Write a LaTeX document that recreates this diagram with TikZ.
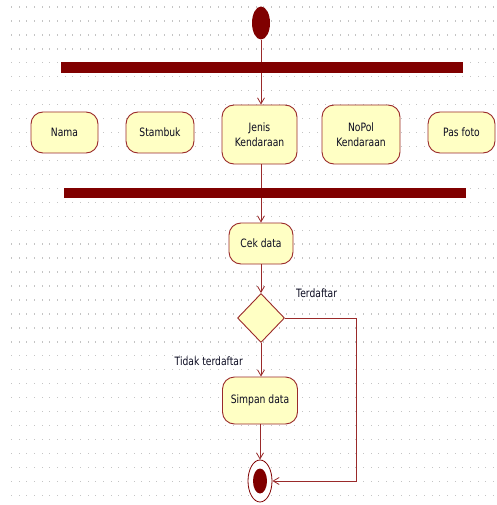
\documentclass[tikz,border=0pt]{standalone}
\usepackage{fontspec}
\usetikzlibrary{shapes.geometric,arrows.meta}
\newfontfamily\uifont{DejaVu Sans}[FakeStretch=0.8]
\definecolor{maroon}{HTML}{800000}
\definecolor{edgered}{HTML}{9A2A2A}
\definecolor{actfill}{HTML}{FFFFC4}
\definecolor{gridgray}{HTML}{C4C4C4}
\definecolor{labeltext}{HTML}{0A0A20}
\tikzset{
  activity/.style={draw=edgered, line width=0.9pt, fill=actfill, rounded corners=12pt,
    align=center, inner sep=0pt, font=\uifont\fontsize{11.5}{15}\selectfont, text=labeltext},
  bar/.style={fill=maroon, draw=none},
  flow/.style={draw=edgered, line width=0.8pt},
  flowarrow/.style={flow, -{Straight Barb[length=6pt,width=7pt,line width=0.8pt]}},
  guard/.style={font=\uifont\fontsize{11.5}{13}\selectfont, text=labeltext, inner sep=0pt},
}
\begin{document}
\begin{tikzpicture}[x=1pt,y=-1pt]
  \useasboundingbox (0,0) rectangle (496,505);
  \fill[white] (0,0) rectangle (496,505);
  % dotted background grid
  \foreach \i in {0,...,64} {
    \foreach \j in {0,...,35} {
      \fill[gridgray] ({11.7+\i*7.645-0.5},{7+\j*13.95-0.7}) rectangle ++(1,1.4);
    }
  }
  % start node
  \node[ellipse, fill=maroon, minimum width=18pt, minimum height=33pt, inner sep=0pt] (start) at (261,23) {};
  % fork and join bars
  \node[bar, minimum width=402pt, minimum height=11pt, inner sep=0pt] (fork) at (262,67.5) {};
  \node[bar, minimum width=402pt, minimum height=10pt, inner sep=0pt] (join) at (265,193) {};
  % parallel activities
  \node[activity, minimum width=67pt, minimum height=41pt] (nama) at (64.5,132.5) {Nama};
  \node[activity, minimum width=68pt, minimum height=41pt] (stambuk) at (160,132.5) {Stambuk};
  \node[activity, minimum width=75pt, minimum height=59pt] (jenis) at (259.5,134.5) {Jenis\\Kendaraan};
  \node[activity, minimum width=78pt, minimum height=59pt] (nopol) at (361,134.5) {NoPol\\Kendaraan};
  \node[activity, minimum width=67pt, minimum height=41pt] (pasfoto) at (461.5,132.5) {Pas foto};
  % sequential part
  \node[activity, minimum width=64pt, minimum height=41pt] (cek) at (261,243.5) {Cek data};
  \node[diamond, draw=edgered, line width=0.9pt, fill=actfill, minimum width=47pt, minimum height=49pt, inner sep=0pt, aspect=1] (dec) at (261,318) {};
  \node[activity, minimum width=75pt, minimum height=47pt] (simpan) at (260,400.5) {Simpan data};
  % final node
  \node[ellipse, draw=maroon, line width=0.8pt, fill=white, minimum width=24pt, minimum height=42pt, inner sep=0pt] (final) at (260,481) {};
  \node[ellipse, fill=maroon, minimum width=14pt, minimum height=25pt, inner sep=0pt] (finaldot) at (final.center) {};
  % connectors
  \coordinate (mainx) at (261,0);
  \draw[flow] (start.south) -- (start.south |- fork.north);
  \draw[flowarrow] (start.south |- fork.south) -- (start.south |- jenis.north);
  \draw[flow] (jenis.south -| mainx) -- (mainx |- join.north);
  \draw[flowarrow] (mainx |- join.south) -- (cek.north);
  \draw[flowarrow] (cek.south) -- (dec.north);
  \draw[flowarrow] (dec.south) -- (dec.south |- simpan.north);
  \draw[flowarrow] (simpan.south) -- (simpan.south |- final.north);
  \coordinate (rtop) at (356,316);
  \coordinate (rbot) at (356,481);
  \draw[flowarrow] (dec.east) -- (dec.east -| rtop) -- (rbot) -- (final.east);
  % guard labels
  \node[guard, anchor=west] (gyes) at (296,293) {Terdaftar};
  \node[guard, anchor=east] (gno) at (243,361) {Tidak terdaftar};
\end{tikzpicture}
\end{document}
